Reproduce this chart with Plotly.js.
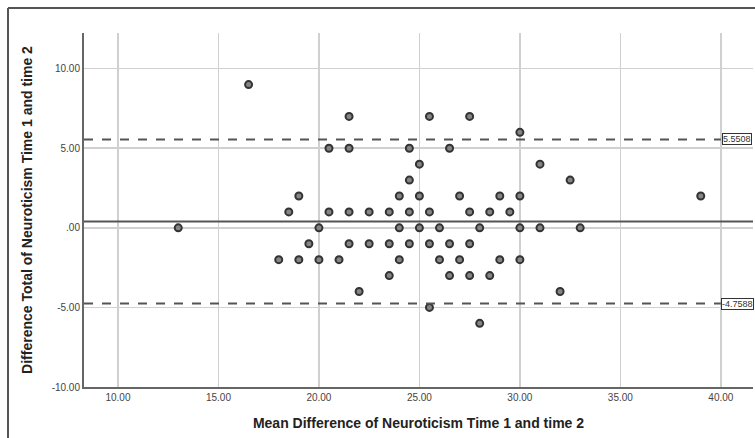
<!DOCTYPE html>
<html>
<head>
<meta charset="utf-8">
<script src="https://cdn.plot.ly/plotly-3.0.1.min.js"></script>
<style>
html,body{margin:0;padding:0;background:#fff;}
#chart{width:755px;height:438px;}
</style>
</head>
<body>
<div id="chart"></div>
<script>
// Mean of Time1/Time2 (x) and difference (y)
const meanValues = [
  16.5,
  13,
  21.5, 25.5, 27.5,
  30,
  20.5, 21.5, 24.5, 26.5,
  25, 31,
  24.5, 32.5,
  19, 24, 25, 27, 29, 30, 39,
  18.5, 20.5, 21.5, 22.5, 23.5, 24.5, 25.5, 27.5, 28.5, 29.5,
  20, 24, 25, 26, 28, 30, 31, 33,
  19.5, 21.5, 22.5, 23.5, 24.5, 25.5, 26.5, 27.5,
  18, 19, 20, 21, 24, 26, 27, 29, 30,
  23.5, 26.5, 27.5, 28.5,
  22, 32,
  25.5,
  28
];
const diffValues = [
  9,
  0,
  7, 7, 7,
  6,
  5, 5, 5, 5,
  4, 4,
  3, 3,
  2, 2, 2, 2, 2, 2, 2,
  1, 1, 1, 1, 1, 1, 1, 1, 1, 1,
  0, 0, 0, 0, 0, 0, 0, 0,
  -1, -1, -1, -1, -1, -1, -1, -1,
  -2, -2, -2, -2, -2, -2, -2, -2, -2,
  -3, -3, -3, -3,
  -4, -4,
  -5,
  -6
];
const meanDiff = 0.396;
const upperLimit = 5.5508;
const lowerLimit = -4.7588;
const upperLabel = "5.5508";
const lowerLabel = "-4.7588";

const xTickVals = [10, 15, 20, 25, 30, 35, 40];
const xTickText = ["10.00", "15.00", "20.00", "25.00", "30.00", "35.00", "40.00"];
const yTickVals = [-10, -5, 0, 5, 10];
const yTickText = ["-10.00", "-5.00", ".00", "5.00", "10.00"];

const xTitle = "Mean Difference of Neuroticism Time 1 and time 2";
const yTitle = "Difference Total of Neuroticism Time 1 and time 2";

const xRange = [8.31, 41.6];
const yRange = [-10, 12.24];

const trace = {
  x: meanValues,
  y: diffValues,
  type: 'scatter',
  mode: 'markers',
  marker: {symbol: 'circle', size: 7, color: '#858585', line: {color: '#333', width: 2}},
  hoverinfo: 'x+y',
  showlegend: false
};

const tickFont = {family: 'Liberation Sans, Arial, sans-serif', size: 10, color: '#444'};
const titleFont = {family: 'Liberation Sans, Arial, sans-serif', size: 14, color: '#222', weight: 'bold'};
const labelFont = {family: 'Liberation Sans, Arial, sans-serif', size: 9, color: '#333'};

const layout = {
  width: 755, height: 438,
  margin: {l: 84, r: 2, t: 33, b: 51},
  paper_bgcolor: '#fff', plot_bgcolor: '#fff',
  xaxis: {
    range: xRange, tickvals: xTickVals, ticktext: xTickText,
    showgrid: true, gridcolor: '#d0d0d0', gridwidth: 1.5,
    showline: true, linecolor: '#666', linewidth: 2,
    zeroline: false, ticks: '', tickfont: tickFont,
    title: {text: xTitle, font: titleFont, standoff: 16},
    automargin: false
  },
  yaxis: {
    range: yRange, tickvals: yTickVals, ticktext: yTickText,
    showgrid: true, gridcolor: '#d0d0d0', gridwidth: 1.5,
    showline: true, linecolor: '#666', linewidth: 2,
    zeroline: false, ticks: '', tickfont: tickFont,
    title: {text: yTitle, font: titleFont, standoff: 16},
    automargin: false
  },
  shapes: [
    {type: 'line', xref: 'paper', x0: 0, x1: 1, yref: 'y', y0: meanDiff, y1: meanDiff,
     line: {color: '#555', width: 2}},
    {type: 'line', xref: 'x', x0: xRange[0], x1: 40, yref: 'y', y0: upperLimit, y1: upperLimit,
     line: {color: '#555', width: 2, dash: 'dash'}},
    {type: 'line', xref: 'x', x0: xRange[0], x1: 40, yref: 'y', y0: lowerLimit, y1: lowerLimit,
     line: {color: '#555', width: 2, dash: 'dash'}},
    {type: 'line', xref: 'paper', yref: 'paper', x0: -0.1136, x1: -0.1136, y0: -0.16, y1: 1.0706,
     line: {color: '#555', width: 2}},
    {type: 'line', xref: 'paper', yref: 'paper', x0: -0.1136, x1: 1.01, y0: 1.0706, y1: 1.0706,
     line: {color: '#555', width: 2}}
  ],
  annotations: [
    {x: 40, y: upperLimit, xref: 'x', yref: 'y', xanchor: 'left', yanchor: 'middle', xshift: 1,
     text: upperLabel, showarrow: false, font: labelFont,
     bgcolor: '#fff', bordercolor: '#333', borderwidth: 1, borderpad: 0},
    {x: 40, y: lowerLimit, xref: 'x', yref: 'y', xanchor: 'left', yanchor: 'middle', xshift: 0,
     text: lowerLabel, showarrow: false, font: labelFont,
     bgcolor: '#fff', bordercolor: '#333', borderwidth: 1, borderpad: 0}
  ]
};

Plotly.newPlot('chart', [trace], layout, {displayModeBar: false, staticPlot: true});
</script>
</body>
</html>
